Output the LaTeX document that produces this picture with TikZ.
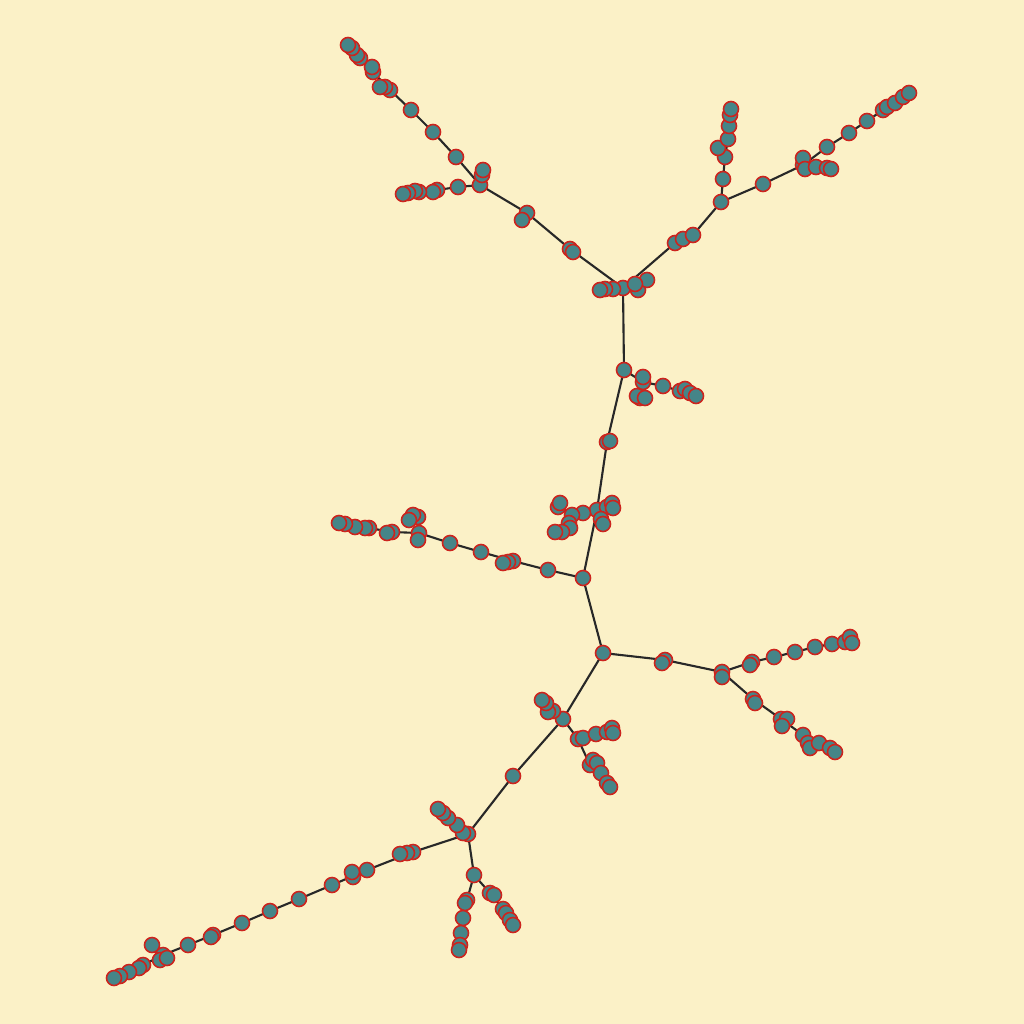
\documentclass[tikz,border=0pt]{standalone}
\usetikzlibrary{backgrounds}
\definecolor{paper}{HTML}{FBF1C7}
\definecolor{teal}{HTML}{458588}
\definecolor{rim}{HTML}{CC241D}
\definecolor{ink}{HTML}{282828}
\tikzset{
  vert/.style={circle,fill=teal,draw=rim,line width=0.45pt,inner sep=0pt,minimum size=0.15cm},
  edge/.style={draw=ink,line width=0.6pt}
}
\begin{document}
\begin{tikzpicture}[x=0.01cm,y=-0.01cm]
\useasboundingbox (0,0) rectangle (1024,1024);
% vertices
\foreach \n/\x/\y in {h/623/288,h1/613/289,h2/605/289,h3/600/290,h4/638/290,h5/647/280,h6/635/284,
  a1/570/249,a1b/573/252,a2/527/213,a2b/522/220,a3/480/185,a3b/482/175,a3c/483/170,
  a4/456/157,a5/433/132,a6/411/110,a7/390/90,a7b/385/87,a7c/380/87,a8/373/72,a8b/372/67,
  a9/360/58,a9b/357/55,a9c/352/48,a9d/348/45,
  b1/458/187,b2/437/190,b2b/433/192,b3/419/192,b3b/415/191,b4/408/193,b4b/403/194,
  c1/675/243,c1b/683/239,c1c/693/235,c2/721/202,
  d1/723/179,d2/725/157,d2b/718/148,d3/728/139,d4/729/126,d5/730/115,d5b/731/109,
  e1/763/184,e2/803/165,e2b/803/158,e2c/805/169,e3/816/167,e4/827/168,e4b/831/169,
  f1/827/147,f2/849/133,f3/867/121,f4/883/110,f4b/887/107,f5/895/103,f6/903/97,f6b/909/93,
  t1/624/370,t2/607/442,t2b/610/441,t3/597/510,t4/583/578,t5/603/653,
  g1/643/382,g1b/643/377,g2/663/386,g3/680/391,g3b/685/389,g4/690/393,g4b/696/396,
  g5/640/398,g5b/637/396,g5c/645/398,
  k1/583/513,k2/572/515,k3/558/507,k3b/560/503,k4/569/523,k4b/570/528,k5/562/532,k5b/555/532,
  k6/607/507,k6b/612/503,k6c/613/508,k7/601/519,k7b/603/524,
  m1/548/570,m2/513/561,m2b/508/562,m2c/503/563,m3/481/552,m4/450/543,m5/419/533,m5b/418/540,
  m6/418/517,m6b/413/515,m6c/409/520,m7/392/532,m7b/387/533,m8/369/528,m8b/365/528,
  m9/355/527,m10/345/524,m10b/339/523,
  n1/665/660,n1b/662/663,n2/722/672,n2b/722/677,n3/752/662,n3b/750/665,n4/774/657,
  n5/795/652,n6/815/647,n7/832/644,n8/845/642,n8b/850/637,n8c/852/643,
  p1/753/699,p1b/755/703,p2/781/719,p2b/787/719,p2c/782/726,p3/803/735,p4/808/743,
  p4b/810/748,p5/819/743,p6/830/748,p6b/835/752,
  q1/563/719,q2/553/711,q3/548/712,q4/546/703,q5/542/700,
  r1/578/739,r1b/583/738,r2/596/734,r3/607/732,r3b/612/728,r3c/613/733,
  s1/590/765,s1b/593/760,s1c/597/763,s2/601/773,s3/607/783,s3b/610/787,
  u1/513/776,u2/468/834,w1/463/833,w2/457/825,w3/448/818,w4/443/813,w5/438/809,
  x1/413/852,x1b/407/853,x1c/400/854,x2/367/870,x2b/353/877,x2c/352/872,x3/332/885,
  x4/299/899,x5/270/911,x6/242/923,x7/213/935,x7b/211/937,x8/188/945,x9/163/955,
  x9b/152/945,x9c/160/960,x9d/167/958,x10/143/965,x10b/139/968,x11/129/972,x12/120/976,x12b/114/978,
  y1/474/875,y2/467/900,y2b/465/903,y3/463/918,y4/461/933,y5/460/945,y5b/459/950,
  z1/490/893,z1b/494/895,z2/503/909,z2b/506/913,z3/510/920,z3b/513/925}
  \node[vert] (\n) at (\x,\y) {};
% edges, under the vertices
\begin{scope}[on background layer]
\fill[paper] (0,0) rectangle (1024,1024);
\foreach \a/\b in {h/h1,h/h2,h/h3,h/h4,h/h5,h/h6,
  h/a1,a1/a1b,a1/a2,a2/a2b,a2/a3,a3/a3b,a3/a3c,a3/a4,a4/a5,a5/a6,a6/a7,a7/a7b,a7/a7c,
  a7/a8,a8/a8b,a8/a9,a9/a9b,a9/a9c,a9/a9d,
  a3/b1,b1/b2,b2/b2b,b2/b3,b3/b3b,b3/b4,b4/b4b,
  h/c1,c1/c1b,c1b/c1c,c1c/c2,c2/d1,d1/d2,d2/d2b,d2/d3,d3/d4,d4/d5,d5/d5b,
  c2/e1,e1/e2,e2/e2b,e2/e2c,e2/e3,e3/e4,e4/e4b,
  e2/f1,f1/f2,f2/f3,f3/f4,f4/f4b,f4/f5,f5/f6,f6/f6b,
  h/t1,t1/t2,t2/t2b,t2/t3,t3/t4,t4/t5,
  t1/g1,g1/g1b,g1/g2,g2/g3,g3/g3b,g3/g4,g4/g4b,g1/g5,g5/g5b,g5/g5c,
  t3/k1,k1/k2,k2/k3,k3/k3b,k2/k4,k4/k4b,k4/k5,k5/k5b,t3/k6,k6/k6b,k6/k6c,t3/k7,k7/k7b,
  t4/m1,m1/m2,m2/m2b,m2/m2c,m2/m3,m3/m4,m4/m5,m5/m5b,m5/m6,m6/m6b,m6/m6c,
  m5/m7,m7/m7b,m7/m8,m8/m8b,m8/m9,m9/m10,m10/m10b,
  t5/n1,n1/n1b,n1/n2,n2/n2b,n2/n3,n3/n3b,n3/n4,n4/n5,n5/n6,n6/n7,n7/n8,n8/n8b,n8/n8c,
  n2/p1,p1/p1b,p1/p2,p2/p2b,p2/p2c,p2/p3,p3/p4,p4/p4b,p4/p5,p5/p6,p6/p6b,
  t5/q1,q1/q2,q1/q3,q1/q4,q1/q5,
  q1/r1,r1/r1b,r1/r2,r2/r3,r3/r3b,r3/r3c,r1/s1,s1/s1b,s1/s1c,s1/s2,s2/s3,s3/s3b,
  q1/u1,u1/u2,u2/w1,u2/w2,u2/w3,u2/w4,u2/w5,
  u2/x1,x1/x1b,x1/x1c,x1/x2,x2/x2b,x2/x2c,x2/x3,x3/x4,x4/x5,x5/x6,x6/x7,x7/x7b,
  x7/x8,x8/x9,x9/x9b,x9/x9c,x9/x9d,x9/x10,x10/x10b,x10/x11,x11/x12,x12/x12b,
  u2/y1,y1/y2,y2/y2b,y2/y3,y3/y4,y4/y5,y5/y5b,
  y1/z1,z1/z1b,z1/z2,z2/z2b,z2/z3,z3/z3b}
  \draw[edge] (\a.center) -- (\b.center);
\end{scope}
\end{tikzpicture}
\end{document}
